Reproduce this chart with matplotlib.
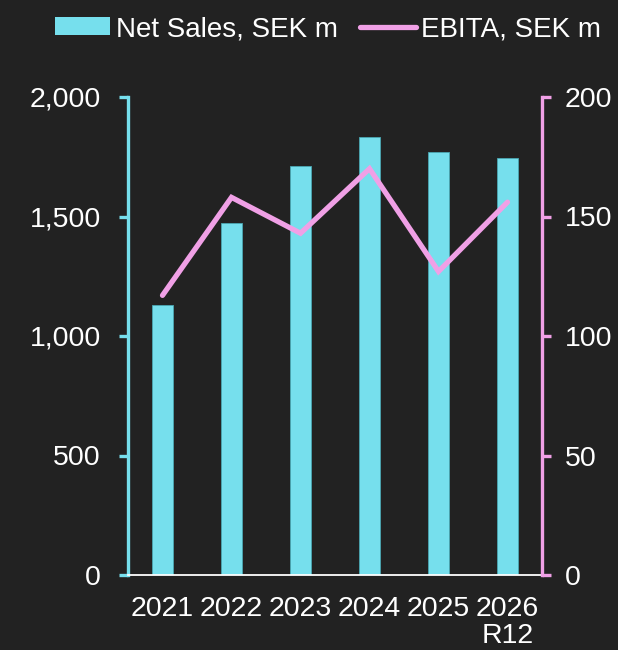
import matplotlib
matplotlib.use("Agg")
import matplotlib.pyplot as plt
from matplotlib.patches import Patch
from matplotlib.lines import Line2D

# -------------------------------
# DATA
# -------------------------------
years = ["2021", "2022", "2023", "2024", "2025", "2026\nR12"]
net_sales = [1128, 1473, 1713, 1833, 1771, 1743]
ebita = [117, 158, 143, 170, 127, 156]

bg = "#222222"
cyan = "#76DFED"
pink = "#F0A0E6"

plt.rcParams["font.family"] = ["Liberation Sans", "DejaVu Sans"]

fig = plt.figure(figsize=(6.18, 6.5), dpi=100, facecolor=bg)
ax = fig.add_axes([128 / 618, 1 - 575 / 650, 414 / 618, 478 / 650])
ax.set_facecolor(bg)

x = list(range(len(years)))
ax.bar(x, net_sales, width=0.31, color=cyan, edgecolor="#4aa7b3", linewidth=0.6, zorder=2)
ax.set_xlim(-0.5, 5.5)
ax.set_ylim(0, 2000)
ax.set_yticks([0, 500, 1000, 1500, 2000])
ax.set_yticklabels(["0", "500", "1,000", "1,500", "2,000"])
ax.set_xticks(x)
ax.set_xticklabels(years, linespacing=1.05)

ax2 = ax.twinx()
ax2.plot(x, ebita, color=pink, linewidth=3.8, solid_capstyle="round", solid_joinstyle="miter", zorder=3)
ax2.set_ylim(0, 200)
ax2.set_yticks([0, 50, 100, 150, 200])

# spines
for a in (ax, ax2):
    a.spines["top"].set_visible(False)
ax.spines["right"].set_visible(False)
ax.spines["left"].set_color(cyan)
ax.spines["left"].set_linewidth(2.4)
ax.spines["bottom"].set_color("white")
ax.spines["bottom"].set_linewidth(1.3)
ax2.spines["left"].set_visible(False)
ax2.spines["bottom"].set_visible(False)
ax2.spines["right"].set_color(pink)
ax2.spines["right"].set_linewidth(2.4)

ax.tick_params(axis="y", colors=cyan, labelcolor="white", labelsize=20.5, length=6.5, width=2.4, pad=13, direction="out")
ax.tick_params(axis="x", length=0, labelcolor="white", labelsize=20.5, pad=15)
ax2.tick_params(axis="y", colors=pink, labelcolor="white", labelsize=20.5, length=6.5, width=2.4, pad=10, direction="out")

# legend
handles = [
    Patch(facecolor=cyan, edgecolor="none"),
    Line2D([0], [0], color=pink, linewidth=3.8, solid_capstyle="round"),
]
fig.legend(handles, ["Net Sales, SEK m", "EBITA, SEK m"], loc="center", bbox_to_anchor=(328 / 618, 1 - 29 / 650),
           ncol=2, frameon=False, fontsize=20, labelcolor="white", handlelength=2.0, handleheight=0.62,
           handletextpad=0.2, columnspacing=0.8, borderaxespad=0)

fig.savefig("out.png", dpi=100, facecolor=bg)
